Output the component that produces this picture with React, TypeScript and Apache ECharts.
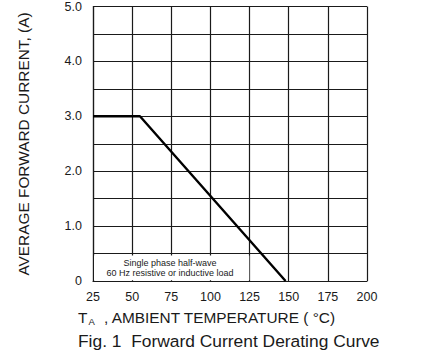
import React, { useEffect, useRef } from "react";
import * as echarts from "echarts";

const temperatures = [25, 55, 148];
const currents = [3.0, 3.0, 0];
const xTicks = [25, 50, 75, 100, 125, 150, 175, 200];
const yMajorTicks = [0, 1, 2, 3, 4, 5];
const noteLines = ["Single phase half-wave", "60 Hz resistive or inductive load"];
const titleText = "Fig. 1  Forward Current Derating Curve";
const yName = "AVERAGE FORWARD CURRENT, (A)";
const xNameMain = "T";
const xNameSub = "A";
const xNameRest = ", AMBIENT TEMPERATURE ( \u00B0C)";

const FONT = "'Liberation Sans', Arial, sans-serif";
const INK = "#1a1a1a";

export default function App() {
  const ref = useRef<HTMLDivElement>(null);
  useEffect(() => {
    if (!ref.current) return;
    const chart = echarts.init(ref.current, undefined, { renderer: "svg" });
    const left = 93, right = 58, top = 5, bottom = 77;
    chart.setOption({
      animation: false,
      backgroundColor: "#ffffff",
      textStyle: { fontFamily: FONT },
      grid: { left, right, top, bottom, containLabel: false },
      xAxis: {
        type: "value",
        min: 25,
        max: 200,
        interval: 25,
        axisLine: { show: true, lineStyle: { color: INK, width: 1.2 } },
        axisTick: { show: false },
        splitLine: { show: true, lineStyle: { color: INK, width: 1.2 } },
        axisLabel: {
          color: INK,
          fontSize: 12.5,
          fontFamily: FONT,
          margin: 9,
          formatter: (v: number) => (xTicks.includes(v) ? String(v) : ""),
        },
      },
      yAxis: {
        type: "value",
        min: 0,
        max: 5,
        interval: 0.5,
        axisLine: { show: true, lineStyle: { color: INK, width: 1.2 } },
        axisTick: { show: false },
        splitLine: { show: true, lineStyle: { color: INK, width: 1.2 } },
        axisLabel: {
          color: INK,
          fontSize: 12.5,
          fontFamily: FONT,
          margin: 11,
          formatter: (v: number) =>
            yMajorTicks.includes(v) ? (v === 0 ? "0" : v.toFixed(1)) : "",
        },
      },
      series: [
        {
          type: "line",
          data: temperatures.map((t, i) => [t, currents[i]]),
          showSymbol: false,
          lineStyle: { color: "#000000", width: 2.4 },
          z: 5,
        },
      ],
      graphic: [
        {
          type: "rect",
          shape: { x: 94, y: 255.5, width: 155.3, height: 24.8 },
          style: { fill: "#ffffff" },
          z: 10,
        },
        {
          type: "text",
          x: 170,
          y: 268,
          z: 11,
          style: {
            text: noteLines.join("\n"),
            fill: INK,
            font: `9px ${FONT}`,
            align: "center",
            verticalAlign: "middle",
            lineHeight: 10.5,
          },
        },
        {
          type: "text",
          x: 23,
          y: 144,
          rotation: Math.PI / 2,
          style: {
            text: yName,
            fill: INK,
            font: `15.4px ${FONT}`,
            align: "center",
            verticalAlign: "middle",
          },
        },
        {
          type: "text",
          x: 78,
          y: 317,
          style: {
            text: xNameMain,
            fill: INK,
            font: `15.4px ${FONT}`,
            align: "left",
            verticalAlign: "middle",
          },
        },
        {
          type: "text",
          x: 88.5,
          y: 321,
          style: {
            text: xNameSub,
            fill: INK,
            font: `9.5px ${FONT}`,
            align: "left",
            verticalAlign: "middle",
          },
        },
        {
          type: "text",
          x: 104,
          y: 317,
          style: {
            text: xNameRest,
            fill: INK,
            font: `15.4px ${FONT}`,
            align: "left",
            verticalAlign: "middle",
          },
        },
        {
          type: "text",
          x: 78,
          y: 341,
          style: {
            text: titleText,
            fill: INK,
            font: `17.4px ${FONT}`,
            align: "left",
            verticalAlign: "middle",
          },
        },
      ],
    });
    return () => chart.dispose();
  }, []);
  return (
    <div
      ref={ref}
      style={{ position: "absolute", left: 0, top: 0, width: 425, height: 358 }}
    />
  );
}
